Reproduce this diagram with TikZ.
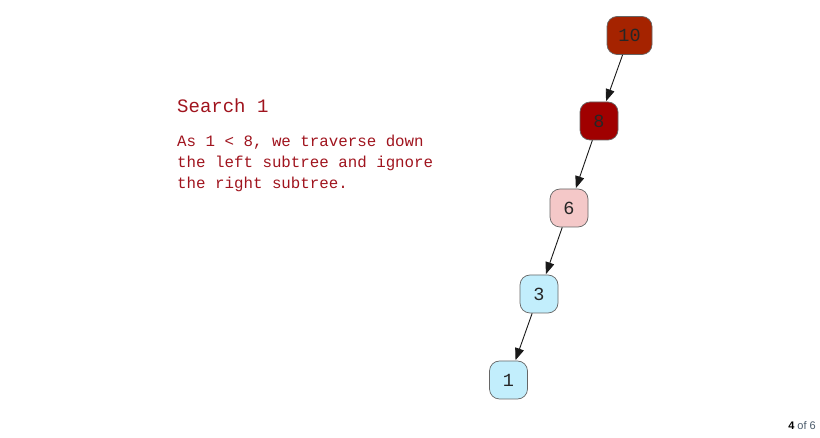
\documentclass[tikz,border=0pt]{standalone}
\usepackage{fontspec}
\setmainfont{Liberation Sans}
\newfontfamily\monofont{Liberation Mono}
\usetikzlibrary{arrows.meta}
\definecolor{txtred}{HTML}{A0141E}
\definecolor{nodeA}{HTML}{A52300}
\definecolor{nodeB}{HTML}{A00000}
\definecolor{nodeC}{HTML}{F4C8C8}
\definecolor{nodeD}{HTML}{C2EEFC}
\definecolor{pgray}{HTML}{4A5A6A}
\tikzset{
  tnode/.style={draw=black!60, line width=0.7pt, rounded corners=10pt, minimum width=38pt, minimum height=38pt, inner sep=0pt, font=\monofont\fontsize{18.5}{18.5}\selectfont, text=black!85},
  edge/.style={draw=black!90, line width=0.9pt, -{Triangle[length=12pt,width=9pt]}, shorten >=0.5pt},
}
\begin{document}
\begin{tikzpicture}[x=1pt,y=-1pt]
\useasboundingbox (0,0) rectangle (820,438);
\fill[white] (0,0) rectangle (820,438);
\node[tnode, fill=nodeA, minimum width=45pt] (n10) at (629.5,35.5) {10};
\node[tnode, fill=nodeB] (n8) at (599,121) {8};
\node[tnode, fill=nodeC] (n6) at (569,208) {6};
\node[tnode, fill=nodeD] (n3) at (539,294) {3};
\node[tnode, fill=nodeD] (n1) at (508.5,380) {1};
\draw[edge] (n10) -- (n8);
\draw[edge] (n8) -- (n6);
\draw[edge] (n6) -- (n3);
\draw[edge] (n3) -- (n1);
\node[anchor=base west, inner sep=0pt, text=txtred, font=\monofont\fontsize{19}{19}\selectfont] (title) at (177,113) {Search 1};
\node[anchor=north west, inner sep=0pt, text=txtred, align=left, font=\monofont\fontsize{15.8}{21}\selectfont] (body) at (177,135) {As 1 < 8, we traverse down\\the left subtree and ignore\\the right subtree.};
\node[anchor=base east, inner sep=0pt, font=\fontsize{11}{11}\selectfont, text=pgray] (pg) at (816,430) {\textbf{\color{black}4} of 6};
\end{tikzpicture}
\end{document}
